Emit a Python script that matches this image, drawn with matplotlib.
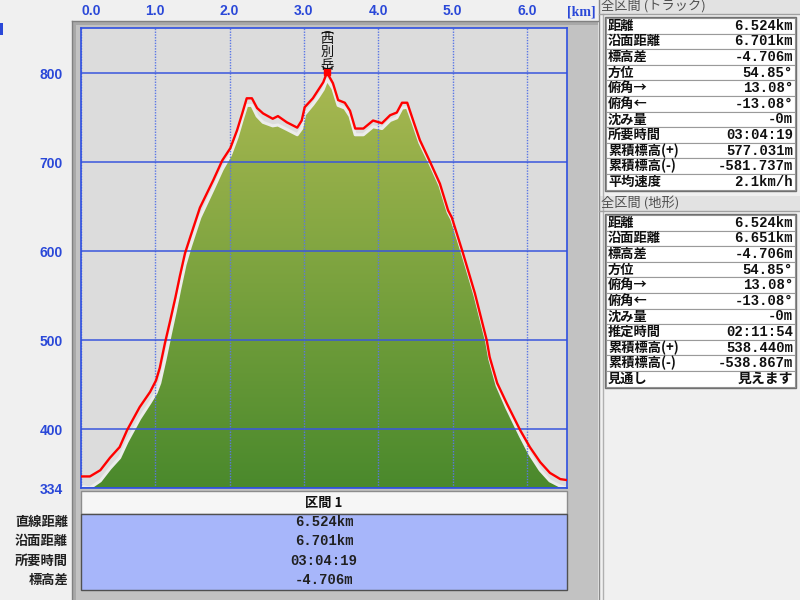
import numpy as np
import matplotlib.pyplot as plt
from matplotlib.patches import Rectangle, Polygon
from matplotlib.colors import LinearSegmentedColormap

plt.rcParams['font.family'] = ['Noto Sans CJK JP', 'DejaVu Sans']

# トラックの距離 [km] と標高 [m]
track_km = [0.00, 0.12, 0.26, 0.39, 0.52, 0.62, 0.79, 0.93, 1.01, 1.06,
            1.13, 1.20, 1.27, 1.33, 1.40, 1.47, 1.60, 1.78, 1.90, 2.01,
            2.10, 2.17, 2.23, 2.30, 2.37, 2.45, 2.58, 2.65, 2.77, 2.91,
            2.97, 3.01, 3.12, 3.19, 3.26, 3.31, 3.39, 3.46, 3.55, 3.62,
            3.69, 3.80, 3.93, 4.05, 4.16, 4.25, 4.32, 4.39, 4.47, 4.56,
            4.70, 4.83, 4.94, 4.99, 5.14, 5.30, 5.46, 5.50, 5.60, 5.73,
            5.91, 6.04, 6.18, 6.31, 6.45, 6.53]
track_m = [347, 347, 354, 368, 380, 399, 425, 442, 455, 469,
           497, 522, 548, 572, 598, 616, 649, 680, 702, 716,
           736, 755, 772, 772, 761, 755, 749, 752, 745, 739,
           747, 762, 772, 781, 790, 801, 789, 770, 767, 758,
           738, 738, 747, 744, 753, 756, 767, 767, 747, 725,
           700, 676, 646, 638, 598, 553, 500, 481, 452, 429,
           399, 380, 363, 351, 344, 343]

# 地形の標高 [m]（同じ距離で）
terrain_m = [336, 334, 342, 356, 368, 386, 412, 430, 441, 452,
             478, 506, 533, 558, 585, 605, 638, 670, 692, 708,
             728, 748, 764, 764, 752, 745, 741, 742, 737, 731,
             738, 754, 765, 773, 782, 793, 783, 764, 761, 752,
             731, 731, 740, 738, 747, 750, 761, 762, 744, 722,
             698, 674, 644, 636, 596, 551, 498, 479, 449, 424,
             393, 372, 354, 342, 336, 334]

x_ticks = [0, 1, 2, 3, 4, 5, 6]
x_labels = ['0.0', '1.0', '2.0', '3.0', '4.0', '5.0', '6.0']
y_ticks = [334, 400, 500, 600, 700, 800]
x_max = 6.54
y_min, y_max = 334, 851
peak_name = '西別岳'

section_title = '区間 1'
section_labels = ['直線距離', '沿面距離', '所要時間', '標高差']
section_values = ['6.524km', '6.701km', '03:04:19', '-4.706m']

track_title = '全区間 (トラック)'
track_labels = ['距離', '沿面距離', '標高差', '方位', '俯角→', '俯角←', '沈み量',
                '所要時間', '累積標高(+)', '累積標高(-)', '平均速度']
track_values = ['6.524km', '6.701km', '-4.706m', '54.85°', '13.08°', '-13.08°',
                '-0m', '03:04:19', '577.031m', '-581.737m', '2.1km/h']

terrain_title = '全区間 (地形)'
terrain_labels = ['距離', '沿面距離', '標高差', '方位', '俯角→', '俯角←', '沈み量',
                  '推定時間', '累積標高(+)', '累積標高(-)', '見通し']
terrain_values = ['6.524km', '6.651km', '-4.706m', '54.85°', '13.08°', '-13.08°',
                  '-0m', '02:11:54', '538.440m', '-538.867m', '見えます']

BLUE = '#2a48d8'
MONO = ['Liberation Mono', 'Noto Sans CJK JP']
CJK = 'Noto Sans CJK JP'

fig = plt.figure(figsize=(8, 6), dpi=100)
fig.patch.set_facecolor('#f0f0f0')

# 背景用の軸（ピクセル座標）
bg = fig.add_axes([0, 0, 1, 1])
bg.set_xlim(0, 800)
bg.set_ylim(600, 0)
bg.axis('off')
bg.set_zorder(0)

# グラフ周りの灰色の枠
bg.add_patch(Rectangle((72, 21), 526, 579, fc='#a8a8a8', ec='none'))
bg.add_patch(Rectangle((76, 25), 522, 575, fc='#c2c2c2', ec='none'))
bg.plot([72, 72], [21, 600], color='#808080', lw=1)
bg.plot([72, 598], [21, 21], color='#808080', lw=1)
bg.add_patch(Rectangle((0, 23), 3, 12, fc=BLUE, ec='none'))

# 区間テーブル
bg.add_patch(Rectangle((81, 491), 486, 23, fc='#f6f6f6', ec='#8c8c8c', lw=1))
bg.text(324, 502.5, section_title, ha='center', va='center', fontsize=9.5,
        fontweight='bold', family=CJK, color='#101010')
bg.add_patch(Rectangle((81, 514), 486, 76, fc='#a7b6fa', ec='#505050', lw=1))
for i, (lab, val) in enumerate(zip(section_labels, section_values)):
    yy = 522 + i * 19.3
    bg.text(68, yy, lab, ha='right', va='center', fontsize=9.5,
            fontweight='bold', family=CJK, color='#202020')
    bg.text(324, yy, val, ha='center', va='center', fontsize=10,
            fontweight='bold', family=MONO, color='#202020')

# 右側のパネル
bg.add_patch(Rectangle((598, 0), 202, 600, fc='#f0f0f0', ec='none'))
bg.plot([598.5, 598.5], [0, 600], color='#8a8a8a', lw=1)
bg.plot([602.5, 602.5], [14, 600], color='#b0b0b0', lw=1)


def draw_table(top_hdr, title, labels, values):
    bg.add_patch(Rectangle((599, top_hdr), 201, 15, fc='#e2e2e2', ec='none'))
    bg.plot([599, 800], [top_hdr + 15, top_hdr + 15], color='#a0a0a0', lw=1)
    bg.text(601, top_hdr + 7, title, ha='left', va='center', fontsize=9.5,
            family=CJK, color='#505050')
    top = top_hdr + 19
    h = 15.6
    for i, (lab, val) in enumerate(zip(labels, values)):
        y0 = top + i * h
        bg.add_patch(Rectangle((606, y0), 189, h, fc='white', ec='#9a9a9a', lw=0.8))
        bg.text(608, y0 + h / 2, lab, ha='left', va='center', fontsize=9.5,
                fontweight='bold', family=CJK, color='#101010')
        bg.text(793, y0 + h / 2, val, ha='right', va='center', fontsize=10,
                fontweight='bold', family=MONO, color='#101010')
    bg.add_patch(Rectangle((605, top - 1), 191, h * len(labels) + 2,
                           fc='none', ec='#707070', lw=1))


draw_table(-1, track_title, track_labels, track_values)
draw_table(196, terrain_title, terrain_labels, terrain_values)

# 断面図
ax = fig.add_axes([81 / 800, 1 - 488 / 600, 486 / 800, 460 / 600])
ax.set_zorder(2)
ax.set_facecolor('#dcdcdc')

cmap = LinearSegmentedColormap.from_list('g', ['#4a892c', '#7aa23e', '#a8b851'])
grad = np.linspace(0, 1, 256).reshape(-1, 1)
im = ax.imshow(grad, extent=(0, x_max, y_min, max(terrain_m)), origin='lower',
               aspect='auto', cmap=cmap, zorder=0.5)
verts = [(track_km[0], y_min)] + list(zip(track_km, terrain_m)) + [(track_km[-1], y_min), (x_max, y_min)]
clip = Polygon(verts, closed=True, transform=ax.transData, fc='none', ec='none')
im.set_clip_path(clip)
ax.plot(track_km, terrain_m, color='#ececec', lw=2.2, zorder=1.2)

ax.plot(track_km, track_m, color='#ff0000', lw=1.7, zorder=3)
ip = int(np.argmax(track_m))
ax.plot(track_km[ip], track_m[ip], 's', color='#ff0000', ms=4.5, zorder=3)

# 山名（縦書き）
chars = ['︵'] + list(peak_name) + ['︶']
offsets = [31, 24, 14.5, 5, -1]
for ch, off in zip(chars, offsets):
    ax.annotate(ch, (track_km[ip], track_m[ip]), xytext=(0, off),
                textcoords='offset points', ha='center', va='center',
                fontsize=9.5, family=CJK, color='#111111', zorder=4)

ax.set_xlim(0, x_max)
ax.set_ylim(y_min, y_max)
ax.set_xticks(x_ticks, labels=x_labels)
ax.set_yticks(y_ticks)
ax.xaxis.tick_top()
ax.tick_params(axis='x', length=0, pad=7, labelsize=10, labelcolor=BLUE)
ax.tick_params(axis='y', length=0, pad=13, labelsize=10, labelcolor=BLUE)
for lab in ax.get_xticklabels() + ax.get_yticklabels():
    lab.set_fontfamily('Liberation Sans')
    lab.set_fontweight('bold')
ax.get_xticklabels()[0].set_ha('left')

ax.set_axisbelow('line')
ax.grid(axis='y', color='#3a56dc', lw=1.1, ls='-')
ax.grid(axis='x', color='#5a76e6', lw=1.0, ls=(0, (1, 1)))
for sp in ax.spines.values():
    sp.set_color('#2f4fe0')
    sp.set_linewidth(1.2)

fig.text(581 / 800, 1 - 12 / 600, '[km]', ha='center', va='center', fontsize=10,
         fontweight='bold', family='Liberation Serif', color=BLUE)

fig.savefig('out.png', dpi=100, facecolor=fig.get_facecolor())
